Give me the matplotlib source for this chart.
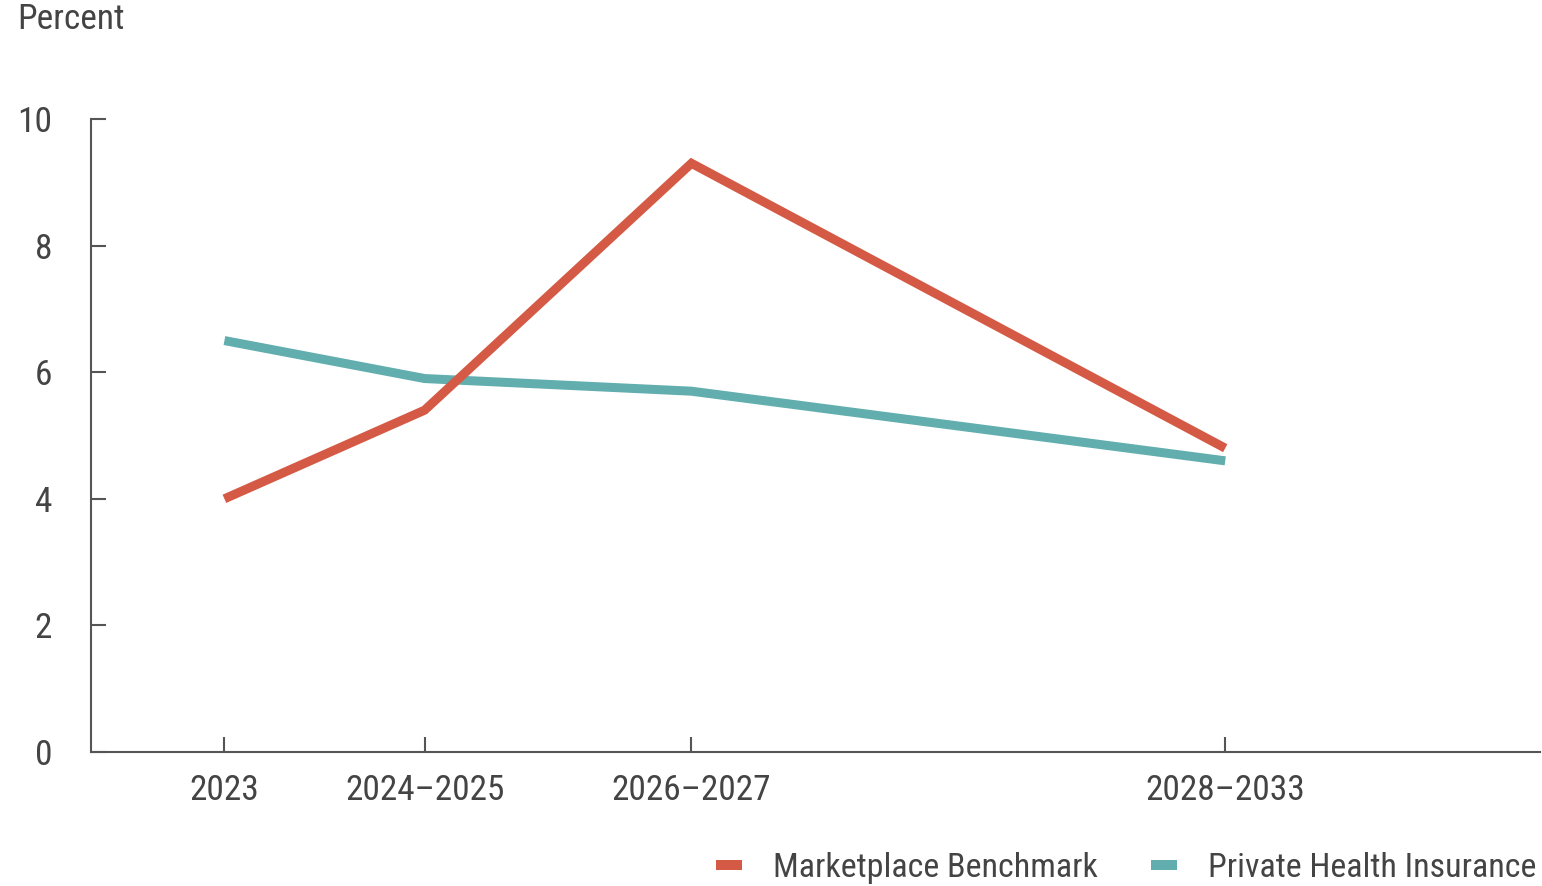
import matplotlib
matplotlib.use("Agg")
import matplotlib.pyplot as plt
from matplotlib import font_manager
from matplotlib.lines import Line2D

names = {f.name for f in font_manager.fontManager.ttflist}
family = [n for n in ["Liberation Sans Narrow", "Roboto Condensed", "Roboto", "DejaVu Sans"] if n in names]
plt.rcParams["font.family"] = family

# Period labels and their midpoints on a year scale
periods = ["2023", "2024\u20132025", "2026\u20132027", "2028\u20132033"]
period_mid = [2023, 2024.5, 2026.5, 2030.5]
marketplace = [4.0, 5.4, 9.3, 4.8]
private_ins = [6.5, 5.9, 5.7, 4.6]

RED = "#d55a45"
TEAL = "#62aeae"
TXT = "#444444"
AX = "#555555"
FS = 25.5

fig = plt.figure(figsize=(15.42, 8.86), dpi=100)
ax = fig.add_axes([0.059, 0.1512, 0.9398, 0.7145])

ax.plot(period_mid, marketplace, color=RED, lw=6.5, solid_capstyle="butt", solid_joinstyle="miter", zorder=3)
ax.plot(period_mid, private_ins, color=TEAL, lw=6.5, solid_capstyle="butt", solid_joinstyle="miter", zorder=2)

ax.set_xlim(2022.0, 2032.86)
ax.set_ylim(0, 10)
ax.set_yticks([0, 2, 4, 6, 8, 10])
ax.set_xticks(period_mid)
ax.set_xticklabels(periods)

for s in ["top", "right"]:
    ax.spines[s].set_visible(False)
for s in ["left", "bottom"]:
    ax.spines[s].set_color(AX)
    ax.spines[s].set_linewidth(1.5)

ax.tick_params(axis="both", direction="in", length=11, width=1.5, color=AX,
               labelsize=FS, labelcolor=TXT)
ax.tick_params(axis="x", pad=16)
ax.tick_params(axis="y", pad=28)

fig.text(0.011, 0.997, "Percent", fontsize=FS, color=TXT, va="top", ha="left")

handles = [Line2D([], [], color=RED, lw=7.2, solid_capstyle="butt"),
           Line2D([], [], color=TEAL, lw=7.2, solid_capstyle="butt")]
fig.legend(handles, ["Marketplace Benchmark", "Private Health Insurance"],
           loc="lower right", bbox_to_anchor=(1.016, -0.032), ncol=2, frameon=False,
           fontsize=24.5, labelcolor=TXT, handlelength=0.78, handletextpad=0.9,
           columnspacing=1.55)

fig.savefig("out.png", dpi=100)
